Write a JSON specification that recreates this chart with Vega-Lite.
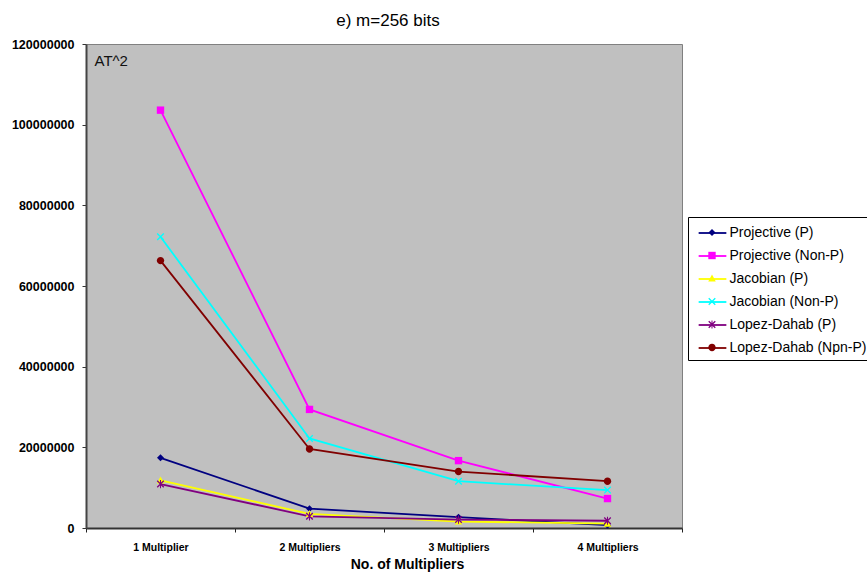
{
  "$schema": "https://vega.github.io/schema/vega-lite/v6.json",
  "width": 596,
  "height": 484,
  "autosize": {"type": "none"},
  "padding": {"left": 86, "top": 44, "right": 185, "bottom": 46},
  "background": "white",
  "config": {
    "font": "Liberation Sans",
    "view": {"fill": "#C0C0C0", "stroke": "#808080", "strokeWidth": 1}
  },
  "title": {
    "text": "e) m=256 bits",
    "fontSize": 17,
    "fontWeight": "normal",
    "font": "Liberation Sans",
    "color": "black",
    "anchor": "middle",
    "offset": 8,
    "dx": 4
  },
  "data": {
    "values": [
      {"series": "Projective (P)", "mult": "1 Multiplier", "v": 17400000},
      {"series": "Projective (P)", "mult": "2 Multipliers", "v": 4800000},
      {"series": "Projective (P)", "mult": "3 Multipliers", "v": 2700000},
      {"series": "Projective (P)", "mult": "4 Multipliers", "v": 700000},
      {"series": "Projective (Non-P)", "mult": "1 Multiplier", "v": 103600000},
      {"series": "Projective (Non-P)", "mult": "2 Multipliers", "v": 29400000},
      {"series": "Projective (Non-P)", "mult": "3 Multipliers", "v": 16700000},
      {"series": "Projective (Non-P)", "mult": "4 Multipliers", "v": 7300000},
      {"series": "Jacobian (P)", "mult": "1 Multiplier", "v": 11800000},
      {"series": "Jacobian (P)", "mult": "2 Multipliers", "v": 3500000},
      {"series": "Jacobian (P)", "mult": "3 Multipliers", "v": 1600000},
      {"series": "Jacobian (P)", "mult": "4 Multipliers", "v": 1100000},
      {"series": "Jacobian (Non-P)", "mult": "1 Multiplier", "v": 72200000},
      {"series": "Jacobian (Non-P)", "mult": "2 Multipliers", "v": 22200000},
      {"series": "Jacobian (Non-P)", "mult": "3 Multipliers", "v": 11600000},
      {"series": "Jacobian (Non-P)", "mult": "4 Multipliers", "v": 9400000},
      {"series": "Lopez-Dahab (P)", "mult": "1 Multiplier", "v": 10900000},
      {"series": "Lopez-Dahab (P)", "mult": "2 Multipliers", "v": 2900000},
      {"series": "Lopez-Dahab (P)", "mult": "3 Multipliers", "v": 2100000},
      {"series": "Lopez-Dahab (P)", "mult": "4 Multipliers", "v": 1800000},
      {"series": "Lopez-Dahab (Npn-P)", "mult": "1 Multiplier", "v": 66300000},
      {"series": "Lopez-Dahab (Npn-P)", "mult": "2 Multipliers", "v": 19600000},
      {"series": "Lopez-Dahab (Npn-P)", "mult": "3 Multipliers", "v": 14000000},
      {"series": "Lopez-Dahab (Npn-P)", "mult": "4 Multipliers", "v": 11600000}
    ]
  },
  "encoding": {
    "x": {
      "field": "mult",
      "type": "ordinal",
      "scale": {"type": "band", "paddingInner": 0, "paddingOuter": 0},
      "axis": {
        "title": "No. of Multipliers",
        "titleFontSize": 14,
        "titleFontWeight": "bold",
        "titleColor": "black",
        "titleX": 321,
        "titleY": 40,
        "titleAlign": "center",
        "titleBaseline": "alphabetic",
        "labelAngle": 0,
        "labelFontSize": 10.5,
        "labelFontWeight": "bold",
        "labelColor": "black",
        "labelPadding": 10,
        "tickBand": "extent",
        "tickSize": 4,
        "tickColor": "#222222",
        "domainColor": "#333333",
        "domainWidth": 2,
        "grid": false
      }
    },
    "y": {
      "field": "v",
      "type": "quantitative",
      "scale": {"domain": [0, 120000000], "nice": false},
      "axis": {
        "title": "AT^2",
        "titleAngle": 0,
        "titleX": 8,
        "titleY": 21,
        "titleAlign": "left",
        "titleBaseline": "alphabetic",
        "titleFontSize": 15,
        "titleFontWeight": "normal",
        "titleColor": "#111111",
        "values": [0, 20000000, 40000000, 60000000, 80000000, 100000000, 120000000],
        "format": "d",
        "labelFontSize": 12.5,
        "labelFontWeight": "bold",
        "labelColor": "black",
        "labelPadding": 8,
        "tickSize": 4,
        "tickColor": "#333333",
        "domainColor": "#444444",
        "domainWidth": 2,
        "grid": false
      }
    }
  },
  "layer": [
    {
      "mark": {"type": "line", "strokeWidth": 1.8},
      "encoding": {
        "stroke": {
          "field": "series",
          "type": "nominal",
          "sort": ["Projective (P)", "Projective (Non-P)", "Jacobian (P)", "Jacobian (Non-P)", "Lopez-Dahab (P)", "Lopez-Dahab (Npn-P)"],
          "scale": {
            "range": ["#000080", "#FF00FF", "#FFFF00", "#00FFFF", "#800080", "#800000"]
          },
          "legend": {
            "title": null,
            "orient": "none",
            "legendX": 602,
            "legendY": 173,
            "padding": 5,
            "rowPadding": 5,
            "symbolType": "M-1.385,0H1.385",
            "symbolSize": 400,
            "symbolStrokeWidth": 1.8,
            "symbolOffset": 8.5,
            "labelOffset": 6,
            "labelFontSize": 14,
            "labelFont": "Liberation Sans",
            "labelColor": "black",
            "fillColor": "white",
            "strokeColor": "black",
            "cornerRadius": 0,
            "zindex": 0
          }
        }
      }
    },
    {
      "mark": {"type": "point", "filled": true, "size": 420, "opacity": 1},
      "encoding": {
        "color": {
          "field": "series",
          "type": "nominal",
          "scale": {
            "domain": ["Projective (P)", "Projective (Non-P)", "Jacobian (P)", "Jacobian (Non-P)", "Lopez-Dahab (P)", "Lopez-Dahab (Npn-P)"],
            "range": ["#000080", "#FF00FF", "#FFFF00", "#00FFFF", "#800080", "#800000"]
          },
          "legend": {
            "title": null, "orient": "none", "legendX": 602, "legendY": 173, "padding": 5, "rowPadding": 5,
            "symbolSize": 420, "symbolStrokeWidth": 0, "symbolOffset": 8.5, "labelOffset": 6, "labelFontSize": 14, "labelOpacity": 0, "symbolOpacity": 1, "zindex": 1
          }
        },
        "shape": {
          "field": "series",
          "type": "nominal",
          "scale": {
            "domain": ["Projective (P)", "Projective (Non-P)", "Jacobian (P)", "Jacobian (Non-P)", "Lopez-Dahab (P)", "Lopez-Dahab (Npn-P)"],
            "range": [
              "M0,-0.34L0.34,0L0,0.34L-0.34,0Z",
              "M-0.36,-0.36H0.36V0.36H-0.36Z",
              "M0,-0.38L0.37,0.3H-0.37Z",
              "M-0.275,-0.365L0.365,0.275L0.275,0.365L-0.365,-0.275ZM-0.365,0.275L0.275,-0.365L0.365,-0.275L-0.275,0.365Z",
              "M-0.275,-0.365L0.365,0.275L0.275,0.365L-0.365,-0.275ZM-0.365,0.275L0.275,-0.365L0.365,-0.275L-0.275,0.365ZM-0.05,-0.4H0.05V0.4H-0.05Z",
              "M-0.36,0A0.36,0.36 0 1,0 0.36,0A0.36,0.36 0 1,0 -0.36,0Z"
            ]
          },
          "legend": {
            "title": null, "orient": "none", "legendX": 602, "legendY": 173, "padding": 5, "rowPadding": 5,
            "symbolSize": 420, "symbolStrokeWidth": 0, "symbolOffset": 8.5, "labelOffset": 6, "labelFontSize": 14, "labelOpacity": 0, "symbolOpacity": 1, "zindex": 1
          }
        }
      }
    }
  ]
}
